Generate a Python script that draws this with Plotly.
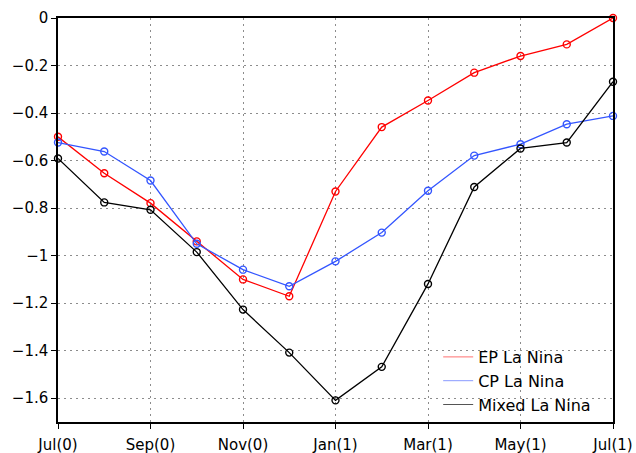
import plotly.graph_objects as go

# Monthly composite index, Jul of year 0 through Jul of year 1
months = ["Jul(0)", "Aug(0)", "Sep(0)", "Oct(0)", "Nov(0)", "Dec(0)", "Jan(1)",
          "Feb(1)", "Mar(1)", "Apr(1)", "May(1)", "Jun(1)", "Jul(1)"]
tick_labels = ["Jul(0)", "Sep(0)", "Nov(0)", "Jan(1)", "Mar(1)", "May(1)", "Jul(1)"]

ep_la_nina = [-0.50, -0.653, -0.779, -0.940, -1.100, -1.171, -0.730,
              -0.459, -0.347, -0.230, -0.160, -0.111, 0.0]
cp_la_nina = [-0.524, -0.562, -0.684, -0.950, -1.059, -1.129, -1.024,
              -0.903, -0.727, -0.579, -0.531, -0.447, -0.412]
mixed_la_nina = [-0.591, -0.776, -0.807, -0.985, -1.227, -1.408, -1.609,
                 -1.468, -1.119, -0.711, -0.549, -0.524, -0.268]

series = [
    ("EP La Nina", ep_la_nina, "#ff0000", "#ff7070"),
    ("CP La Nina", cp_la_nina, "#3355ff", "#8899ff"),
    ("Mixed La Nina", mixed_la_nina, "#000000", "#555555"),
]

fig = go.Figure()
idx = list(range(len(months)))
for name, vals, color, _ in series:
    fig.add_trace(go.Scatter(
        x=idx, y=vals, mode="lines+markers", name=name, showlegend=False,
        line=dict(color=color, width=1.3),
        marker=dict(symbol="circle-open", size=7, color=color, line=dict(width=1.4)),
        cliponaxis=False, hovertext=months,
    ))
# thin legend samples
for name, vals, _, lcolor in series:
    fig.add_trace(go.Scatter(
        x=[None], y=[None], mode="lines", name=name,
        line=dict(color=lcolor, width=1),
    ))

axis_font = dict(family="DejaVu Sans", size=15, color="black")
grid = dict(showgrid=True, gridcolor="#8c8c8c", gridwidth=1.2, griddash="2px,4px")

fig.update_layout(
    width=636, height=453,
    margin=dict(l=58, r=23, t=18, b=31),
    paper_bgcolor="white", plot_bgcolor="white",
    xaxis=dict(
        range=[0, 12], tickmode="array", tickvals=list(range(0, 13, 2)),
        ticktext=tick_labels, ticks="outside", ticklen=5, tickwidth=1,
        tickcolor="black", showline=True, linecolor="black", linewidth=1.5,
        mirror=True, zeroline=False, tickfont=axis_font, automargin=False,
        ticklabelstandoff=3, **grid,
    ),
    yaxis=dict(
        range=[-1.7, 0], tickmode="array",
        tickvals=[0, -0.2, -0.4, -0.6, -0.8, -1, -1.2, -1.4, -1.6],
        ticktext=["0", "−0.2", "−0.4", "−0.6", "−0.8", "−1", "−1.2", "−1.4", "−1.6"],
        ticks="outside", ticklen=5, tickwidth=1, tickcolor="black",
        showline=True, linecolor="black", linewidth=1.5, mirror=True,
        zeroline=False, tickfont=axis_font, automargin=False, **grid,
    ),
    legend=dict(
        x=0.685, y=0.0, xanchor="left", yanchor="bottom",
        bgcolor="rgba(255,255,255,0)", borderwidth=0,
        font=dict(family="DejaVu Sans", size=16, color="black"),
        itemwidth=30, tracegroupgap=0,
    ),
    showlegend=True,
)

fig.write_html("out.html")
